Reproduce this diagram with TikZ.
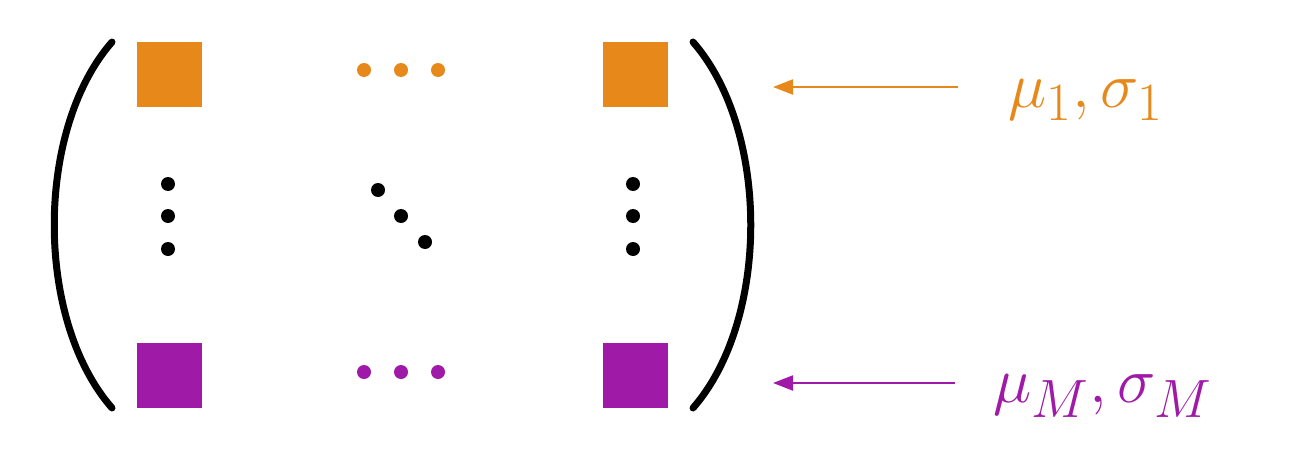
\documentclass[tikz,border=0pt]{standalone}
\usepackage{graphicx}
\usetikzlibrary{arrows.meta}
\definecolor{orng}{HTML}{E6891A}
\definecolor{purp}{HTML}{A01AA8}
\begin{document}
\begin{tikzpicture}[x=1pt,y=-1pt,
  sq/.style={minimum size=65pt,inner sep=0pt,draw=none},
  dt/.style={circle,inner sep=0pt,minimum size=14pt},
  arr/.style={-{Triangle[length=20pt,width=15pt]},line width=2pt},
  par/.style={line width=7pt,line cap=round},
  lbl/.style={font=\Huge,anchor=west}]
\useasboundingbox (0,0) rectangle (1295,455);
\node[sq,fill=orng] (a11) at (169,74) {};
\node[sq,fill=orng] (a1n) at (635,74) {};
\node[sq,fill=purp] (am1) at (169,375) {};
\node[sq,fill=purp] (amn) at (635,375) {};
\foreach \x [count=\i] in {364,401,438}{
  \node[dt,fill=orng] (o\i) at (\x,70) {};
  \node[dt,fill=purp] (p\i) at (\x,372) {};}
\foreach \y [count=\i] in {184,216,249}{
  \node[dt,fill=black] (l\i) at (168,\y) {};
  \node[dt,fill=black] (r\i) at (633,\y) {};}
\node[dt,fill=black] (d1) at (378,190) {};
\node[dt,fill=black] (d2) at (401,216) {};
\node[dt,fill=black] (d3) at (425,242) {};
% parentheses
\draw[par] (112,42) .. controls (35,130) and (35,320) .. (112,408);
\draw[par] (693,42) .. controls (770,130) and (770,320) .. (693,408);
\node[lbl,text=orng] (t1) at (1005,100) {\scalebox{2.6}{$\mu_1,\sigma_1$}};
\node[lbl,text=purp] (tm) at (990,396) {\scalebox{2.6}{$\mu_M,\sigma_M$}};
\coordinate (e1) at (773,87);
\coordinate (em) at (773,383);
\draw[arr,orng] (958,87) -- (e1);
\draw[arr,purp] (955,383) -- (em);
\end{tikzpicture}
\end{document}
